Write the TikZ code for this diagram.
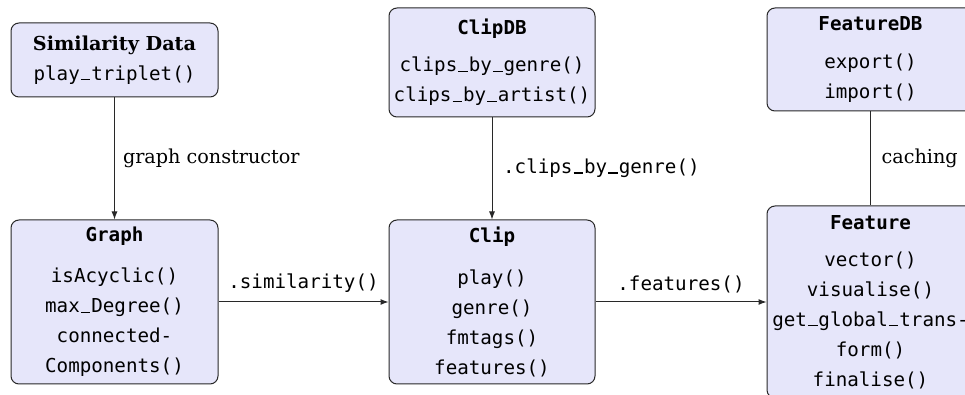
\documentclass[tikz,border=0pt]{standalone}
\usepackage{fontspec}
\setmainfont{DejaVu Serif}
\setmonofont{DejaVu Sans Mono}
\usetikzlibrary{arrows.meta}
\definecolor{boxfill}{RGB}{230,230,250}
\definecolor{edgecol}{RGB}{40,40,40}
\newcommand\us{\makebox[0.602em]{\rule{0.5em}{0.07em}}}
\begin{document}
\begin{tikzpicture}[x=0.75pt,y=-0.75pt,
  cls/.style={draw=edgecol, line width=0.75pt, fill=boxfill, rounded corners=6pt,
    align=center, inner sep=0pt, font=\fontsize{14.4}{22.5}\selectfont\ttfamily},
  conn/.style={draw=edgecol, line width=0.75pt},
  arr/.style={conn, -{Latex[length=6pt,width=4.5pt]}},
  lbl/.style={font=\fontsize{14.4}{17}\selectfont, inner sep=0pt},
  mlbl/.style={font=\fontsize{14.4}{17}\selectfont\ttfamily, inner sep=0pt}]
\useasboundingbox (0,0) rectangle (965,395);
\clip (0,0) rectangle (965,395);

\node[cls, minimum width=155.25pt, minimum height=55.5pt] (sim) at (114.5,60)
  {{\rmfamily\bfseries Similarity Data}\\ play\us triplet()};
\node[cls, minimum width=154.5pt, minimum height=81.75pt] (clipdb) at (492,62.5)
  {\textbf{ClipDB}\\[5.5pt] clips\us by\us genre()\\ clips\us by\us artist()};
\node[cls, minimum width=155.25pt, minimum height=77.25pt] (featdb) at (870.5,59.5)
  {\textbf{FeatureDB}\\[5.5pt] export()\\ import()};
\node[cls, minimum width=155.25pt, minimum height=123pt] (graph) at (114.5,302)
  {\textbf{Graph}\\[8.5pt] isAcyclic()\\ max\us Degree()\\ connected-\\ Components()};
\node[cls, minimum width=154.5pt, minimum height=123pt] (clip) at (492,302)
  {\textbf{Clip}\\[8.5pt] play()\\ genre()\\ fmtags()\\ features()};
\node[cls, minimum width=155.25pt, minimum height=144pt] (feature) at (870.5,302)
  {\textbf{Feature}\\[5.5pt] vector()\\ visualise()\\ get\us global\us trans-\\ form()\\ finalise()};

\draw[arr] (sim) -- node[lbl, right=6pt] {graph constructor} (graph);
\draw[arr] (clipdb) -- node[mlbl, right=8pt] {.clips\us by\us genre()} (clip);
\draw[conn] (featdb) -- node[lbl, right=8pt] {caching} (feature);
\draw[arr] (graph) -- node[mlbl, above=7pt] {.similarity()} (clip);
\draw[arr] (clip) -- node[mlbl, above=6pt] {.features()} (feature);
\end{tikzpicture}
\end{document}
